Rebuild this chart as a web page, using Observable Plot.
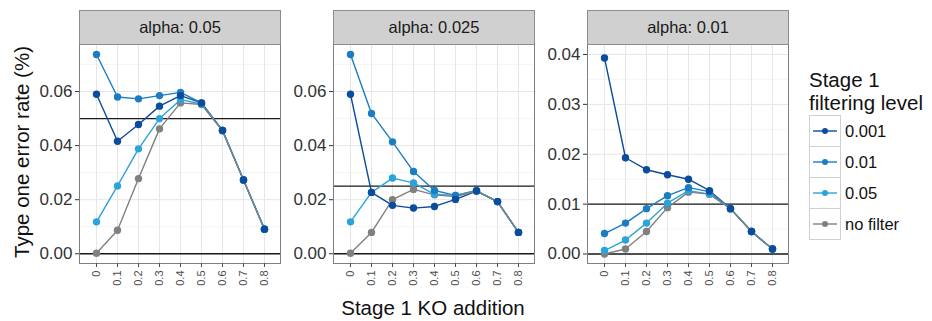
<!DOCTYPE html>
<html>
<head>
<meta charset="utf-8">
<script src="https://cdn.jsdelivr.net/npm/d3@7"></script>
<script src="https://cdn.jsdelivr.net/npm/@observablehq/plot@0.6"></script>
<style>
  body { margin: 0; background: #fff; font-family: Arial, "Liberation Sans", sans-serif; }
  #chart { position: relative; width: 932px; height: 321px; overflow: hidden; background: #fff; }
  .strip { position: absolute; box-sizing: border-box; background: #d0d0d0; border: 1px solid #8c8c8c;
           display: flex; align-items: center; justify-content: center; font-size: 16.5px; color: #1a1a1a; }
  .panel { position: absolute; }
  .ytitle { position: absolute; white-space: nowrap; font-size: 20.5px; color: #111;
            transform: translate(-50%, -50%) rotate(-90deg); }
  .xtitle { position: absolute; white-space: nowrap; font-size: 20.5px; color: #111; transform: translate(-50%, -50%); }
  .legtitle { position: absolute; font-size: 20.5px; line-height: 23px; color: #111; white-space: nowrap; }
  .legkey { position: absolute; box-sizing: border-box; border: 1px solid #d0d0d0; background: #fff; }
  .leglab { position: absolute; font-size: 16.5px; color: #111; white-space: nowrap; transform: translateY(-50%); }
</style>
</head>
<body>
<div id="chart"></div>
<script>
// ---- data ----
const xLabels = ["0", "0.1", "0.2", "0.3", "0.4", "0.5", "0.6", "0.7", "0.8"];
const levels = ["0.001", "0.01", "0.05", "no filter"];
const levelColors = ["#0b4c9c", "#1b7dc2", "#2aa4da", "#808080"];
const alphas = [0.05, 0.025, 0.01];
const panelTitles = ["alpha: 0.05", "alpha: 0.025", "alpha: 0.01"];
const yTicksA = [0, 0.02, 0.04, 0.06];
const yMinorA = [0.01, 0.03, 0.05, 0.07];
const yTicksB = [0, 0.01, 0.02, 0.03, 0.04];
const yMinorB = [0.005, 0.015, 0.025, 0.035];

// alpha 0.05
const a05_f001 = [0.0590, 0.0416, 0.0478, 0.0546, 0.0585, 0.0558, 0.0456, 0.0273, 0.0091];
const a05_f01  = [0.0737, 0.0580, 0.0573, 0.0585, 0.0597, 0.0558, 0.0456, 0.0273, 0.0091];
const a05_f05  = [0.0118, 0.0251, 0.0388, 0.0500, 0.0570, 0.0554, 0.0456, 0.0273, 0.0091];
const a05_none = [0.0002, 0.0087, 0.0278, 0.0462, 0.0558, 0.0552, 0.0456, 0.0273, 0.0091];
// alpha 0.025
const a025_f001 = [0.0590, 0.0227, 0.0179, 0.0169, 0.0175, 0.0201, 0.0232, 0.0193, 0.0079];
const a025_f01  = [0.0737, 0.0519, 0.0414, 0.0304, 0.0234, 0.0216, 0.0234, 0.0193, 0.0079];
const a025_f05  = [0.0118, 0.0227, 0.0280, 0.0262, 0.0220, 0.0216, 0.0232, 0.0193, 0.0079];
const a025_none = [0.0002, 0.0079, 0.0200, 0.0238, 0.0218, 0.0212, 0.0232, 0.0193, 0.0079];
// alpha 0.01
const a01_f001 = [0.0393, 0.0193, 0.0169, 0.0159, 0.0150, 0.0127, 0.0091, 0.0045, 0.0010];
const a01_f01  = [0.0041, 0.0062, 0.0091, 0.0117, 0.0133, 0.0125, 0.0091, 0.0045, 0.0010];
const a01_f05  = [0.0007, 0.0028, 0.0062, 0.0102, 0.0127, 0.0120, 0.0091, 0.0045, 0.0010];
const a01_none = [0.0000, 0.0010, 0.0045, 0.0093, 0.0124, 0.0120, 0.0091, 0.0045, 0.0010];

// ---- layout ----
const chart = document.getElementById("chart");
const panelLefts = [79, 333, 587];
const panelW = 201, stripTop = 10, plotTop = 44, plotH = 219, mLeft = 54, mBottom = 30;

const panels = [
  {alpha: alphas[0], title: panelTitles[0], series: [a05_f001, a05_f01, a05_f05, a05_none], ticks: yTicksA, minor: yMinorA, domain: [-0.0036, 0.0774]},
  {alpha: alphas[1], title: panelTitles[1], series: [a025_f001, a025_f01, a025_f05, a025_none], ticks: yTicksA, minor: yMinorA, domain: [-0.0036, 0.0774]},
  {alpha: alphas[2], title: panelTitles[2], series: [a01_f001, a01_f01, a01_f05, a01_none], ticks: yTicksB, minor: yMinorB, domain: [-0.0019, 0.0420]}
];

panels.forEach((p, k) => {
  const rows = [];
  p.series.forEach((vals, i) => vals.forEach((v, j) => rows.push({x: xLabels[j], v, level: levels[i]})));
  const plot = Plot.plot({
    width: mLeft + panelW + 2,
    height: plotH + mBottom,
    marginLeft: mLeft, marginRight: 2, marginTop: 0, marginBottom: mBottom,
    style: {fontFamily: "Arial, 'Liberation Sans', sans-serif", fontSize: "11px", background: "transparent", overflow: "visible"},
    x: {type: "point", domain: xLabels, padding: 0.6, align: 0.5, label: null},
    y: {domain: p.domain, label: null},
    color: {domain: levels, range: levelColors},
    marks: [
      Plot.ruleY(p.minor, {stroke: "#f3f3f3", strokeWidth: 0.8}),
      Plot.ruleY(p.ticks, {stroke: "#e6e6e6", strokeWidth: 1}),
      Plot.ruleX(xLabels, {stroke: "#e6e6e6", strokeWidth: 1}),
      Plot.ruleY([0, p.alpha], {stroke: "#1a1a1a", strokeWidth: 1.3}),
      Plot.line(rows, {x: "x", y: "v", z: "level", stroke: "level", strokeWidth: 1.4}),
      Plot.dot(rows.slice().reverse(), {x: "x", y: "v", fill: "level", r: 3.7}),
      Plot.frame({stroke: "#7f7f7f"}),
      Plot.axisY(p.ticks, {tickFormat: d => d.toFixed(2), fontSize: 17, tickSize: 4, tickPadding: 3, color: "#333"}),
      Plot.axisX({tickRotate: -90, tickSize: 4, tickPadding: 3, fontSize: 11, color: "#4d4d4d"})
    ]
  });
  plot.classList.add("panel");
  plot.style.left = (panelLefts[k] - mLeft) + "px";
  plot.style.top = plotTop + "px";
  chart.appendChild(plot);

  const strip = document.createElement("div");
  strip.className = "strip";
  strip.style.left = panelLefts[k] + "px";
  strip.style.top = stripTop + "px";
  strip.style.width = (panelW + 1) + "px";
  strip.style.height = (plotTop - stripTop + 1) + "px";
  strip.textContent = p.title;
  chart.appendChild(strip);
});

// axis titles
const yt = document.createElement("div");
yt.className = "ytitle"; yt.style.left = "22px"; yt.style.top = "152px";
yt.textContent = "Type one error rate (%)";
chart.appendChild(yt);
const xt = document.createElement("div");
xt.className = "xtitle"; xt.style.left = "433px"; xt.style.top = "308px";
xt.textContent = "Stage 1 KO addition";
chart.appendChild(xt);

// legend
const lt = document.createElement("div");
lt.className = "legtitle"; lt.style.left = "809px"; lt.style.top = "68px";
lt.innerHTML = "Stage 1<br>filtering level";
chart.appendChild(lt);
levels.forEach((lv, i) => {
  const top = 115 + i * 31;
  const key = document.createElement("div");
  key.className = "legkey";
  key.style.left = "809px"; key.style.top = top + "px";
  key.style.width = "32px"; key.style.height = "32px";
  const ns = "http://www.w3.org/2000/svg";
  const svg = document.createElementNS(ns, "svg");
  svg.setAttribute("width", 30); svg.setAttribute("height", 30);
  const ln = document.createElementNS(ns, "line");
  ln.setAttribute("x1", 3); ln.setAttribute("x2", 27); ln.setAttribute("y1", 15); ln.setAttribute("y2", 15);
  ln.setAttribute("stroke", levelColors[i]); ln.setAttribute("stroke-width", 1.4);
  const c = document.createElementNS(ns, "circle");
  c.setAttribute("cx", 15); c.setAttribute("cy", 15); c.setAttribute("r", 3); c.setAttribute("fill", levelColors[i]);
  svg.appendChild(ln); svg.appendChild(c); key.appendChild(svg);
  chart.appendChild(key);
  const lab = document.createElement("div");
  lab.className = "leglab"; lab.style.left = "845px"; lab.style.top = (top + 16) + "px";
  lab.textContent = lv;
  chart.appendChild(lab);
});
</script>
</body>
</html>
